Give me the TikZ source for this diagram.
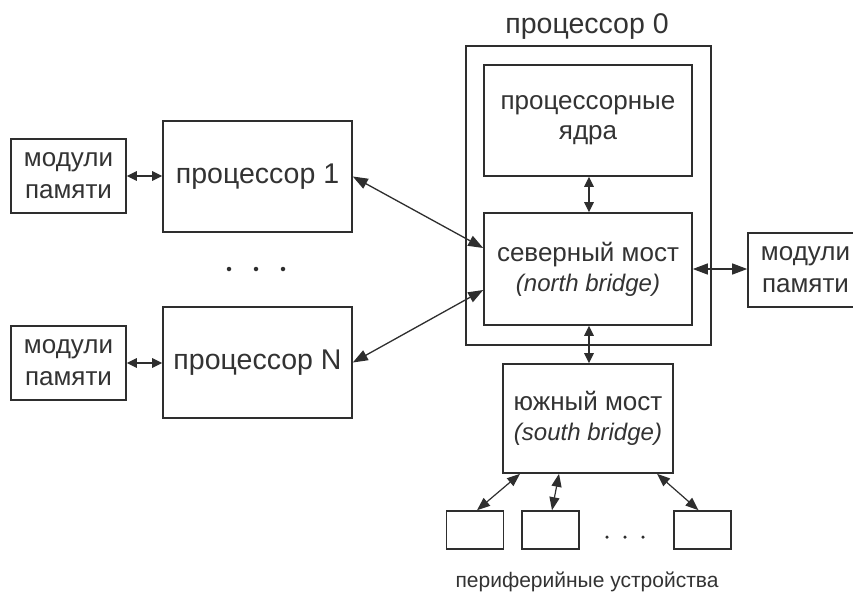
\documentclass[tikz,border=0pt]{standalone}
\usepackage{fontspec}
\setmainfont{Liberation Sans}
\usetikzlibrary{arrows.meta,calc}
\definecolor{linec}{HTML}{2E2E2E}
\definecolor{textc}{HTML}{333333}
\begin{document}
\begin{tikzpicture}[x=1pt,y=-1pt,
  box/.style={draw=linec,line width=1.6pt,inner sep=0pt,align=center,text=textc,
    font=\fontsize{26}{30}\selectfont},
  mem/.style={box,minimum width=115pt,minimum height=74pt,font=\fontsize{26}{32}\selectfont},
  proc/.style={box,minimum width=189pt,minimum height=111pt,font=\fontsize{28.5}{32}\selectfont},
  per/.style={box,minimum width=57pt,minimum height=38pt},
  lbl/.style={inner sep=0pt,text=textc},
  arr/.style={{Triangle[length=15pt,width=11pt]}-{Triangle[length=15pt,width=11pt]},line width=1.3pt,draw=linec},
  sarr/.style={{Triangle[length=10pt,width=9.5pt]}-{Triangle[length=10pt,width=9.5pt]},line width=1.3pt,draw=linec},
  parr/.style={{Triangle[length=13pt,width=10pt]}-{Triangle[length=13pt,width=10pt]},line width=1.2pt,draw=linec},
  dot/.style={circle,fill=linec,inner sep=0pt,minimum size=4.5pt}]
\clip (0,0) rectangle (853,595);
\fill[white] (0,0) rectangle (853,595);
% processor 0
\node[lbl,font=\fontsize{28.5}{32}\selectfont] (p0lbl) at (587,27) {процессор 0};
\node[box,minimum width=245pt,minimum height=299pt] (p0) at (588.5,195.5) {};
\node[box,minimum width=208pt,minimum height=111pt] (cores) at (588,120.5) {процессорные\\ядра};
\node[box,minimum width=208pt,minimum height=112pt] (nb) at (588,269) {северный мост\\{\fontsize{24}{30}\selectfont\itshape (north bridge)}};
\node[mem] (memr) at (805.5,270) {модули\\памяти};
\node[box,minimum width=170pt,minimum height=109pt] (sb) at (588,418.5) {южный мост\\{\fontsize{24}{30}\selectfont\itshape (south bridge)}};
% peripherals
\node[per] (per1) at (475,530) {};
\node[per] (per2) at (550.5,530) {};
\node[per] (per3) at (702.5,530) {};
\node[dot,minimum size=3.5pt] (pd1) at (607,537) {};
\node[dot,minimum size=3.5pt] (pd2) at (625,537) {};
\node[dot,minimum size=3.5pt] (pd3) at (643,537) {};
\node[lbl,font=\fontsize{21}{24}\selectfont] (perlbl) at (587,582) {периферийные устройства};
% processors 1..N
\node[proc] (p1) at (257.5,176.5) {процессор 1};
\node[proc] (pN) at (257.5,362.5) {процессор N};
\node[mem] (mem1) at (68.5,176) {модули\\памяти};
\node[mem] (memN) at (68.5,363) {модули\\памяти};
\node[dot] (d1) at (229,269) {};
\node[dot] (d2) at (256,269) {};
\node[dot] (d3) at (283,269) {};
% connectors
\draw[sarr] (mem1.east) -- (p1.west |- mem1.east);
\draw[sarr] (memN.east) -- (pN.west |- memN.east);
\draw[arr] (p1.east) -- ([yshift=21pt]nb.west);
\draw[arr] (pN.east) -- ([yshift=-21pt]nb.west);
\draw[sarr] ([xshift=1pt]cores.south) -- ([xshift=1pt]nb.north);
\draw[arr] (nb.east) -- (memr.west |- nb.east);
\draw[sarr] ([xshift=1pt]nb.south) -- ([xshift=1pt]sb.north);
\draw[parr] ([xshift=-68pt]sb.south) -- ([xshift=2pt]per1.north);
\draw[parr] ([xshift=-29pt]sb.south) -- ([xshift=1.5pt]per2.north);
\draw[parr] ([xshift=69pt]sb.south) -- ([xshift=-4pt]per3.north);
\end{tikzpicture}
\end{document}
